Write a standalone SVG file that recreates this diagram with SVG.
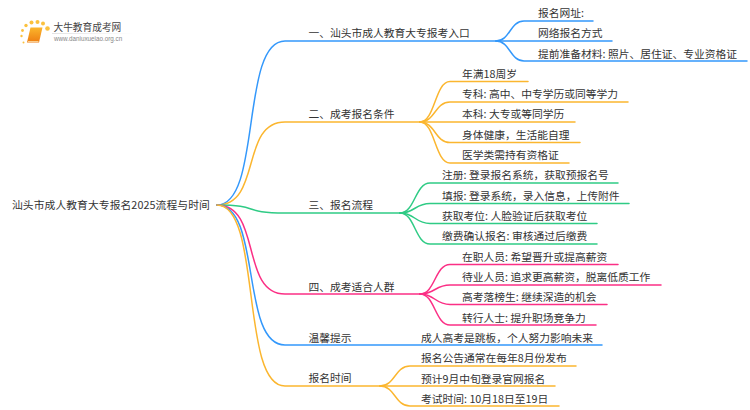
<svg xmlns="http://www.w3.org/2000/svg" width="750" height="410" viewBox="0 0 750 410">
<defs>
<linearGradient id="bk" x1="0" y1="0" x2="0" y2="1"><stop offset="0" stop-color="#fbb62c"/><stop offset="1" stop-color="#ee7d12"/></linearGradient>
<linearGradient id="ul" x1="0" y1="0" x2="1" y2="0"><stop offset="0" stop-color="#ccc" stop-opacity="0.7"/><stop offset="1" stop-color="#ccc" stop-opacity="0"/></linearGradient>
</defs>
<style>
text{font-family:"Noto Sans CJK SC","Liberation Sans",sans-serif;font-size:10.75px;fill:#333}
.c{fill:none;stroke-width:1.5;stroke-linecap:round}
.blue{stroke:#3398fb}.org{stroke:#fbb62f}.grn{stroke:#2fcb85}.pnk{stroke:#fb2f85}
.d{fill:#fbc13e}
</style>
<rect width="750" height="410" fill="#ffffff"/>
<g id="logo">
<circle class="d" cx="47.500" cy="28.500" r="2.300"/><circle class="d" cx="43" cy="23.500" r="2"/><circle class="d" cx="37.500" cy="22" r="2"/><circle class="d" cx="31.500" cy="22.500" r="2"/><circle class="d" cx="26" cy="25.500" r="1.700"/><circle class="d" cx="22.500" cy="30.500" r="1.400"/><circle class="d" cx="21.500" cy="36" r="1.200"/><circle class="d" cx="23.500" cy="42.500" r="1"/>
<path d="M30.500 27.500H42.500L39 42.500H27Z" fill="url(#bk)"/>
<path d="M28 41.500H38.500" stroke="#fde3b0" stroke-width="0.800" fill="none"/>
<text x="53.500" y="31" style="font-size:9.700px;fill:#444">大牛教育成考网</text>
<rect x="52" y="33" width="82" height="0.800" fill="url(#ul)"/>
<text x="54" y="41" style="font-family:'Liberation Sans',sans-serif;font-size:6.300px;fill:#888">www.daniuxueiao.org.cn</text>
</g>
<g id="connectors">
<path class="c blue" d="M217 205C262 205 240 41 285 41H496"/>
<path class="c org" d="M217 205C262 205 240 122 285 122H420"/>
<path class="c grn" d="M217 205C262 205 240 213 285 213H400"/>
<path class="c pnk" d="M217 205C262 205 240 294 285 294H420"/>
<path class="c blue" d="M217 205C262 205 240 345 285 345H602"/>
<path class="c org" d="M217 205C262 205 240 386 285 386H380"/>
<path class="c blue" d="M496 41C510 41 510 21 524 21H593"/>
<path class="c blue" d="M496 41C510 41 510 41 524 41H612"/>
<path class="c blue" d="M496 41C510 41 510 61 524 61H747"/>
<path class="c org" d="M420 122C435 122 435 81.500 450 81.500H528"/>
<path class="c org" d="M420 122C435 122 435 102 450 102H628"/>
<path class="c org" d="M420 122C435 122 435 122 450 122H575"/>
<path class="c org" d="M420 122C435 122 435 142.500 450 142.500H580"/>
<path class="c org" d="M420 122C435 122 435 163 450 163H569"/>
<path class="c grn" d="M400 213C415 213 415 183 430 183H618"/>
<path class="c grn" d="M400 213C415 213 415 203.500 430 203.500H629"/>
<path class="c grn" d="M400 213C415 213 415 223.500 430 223.500H597"/>
<path class="c grn" d="M400 213C415 213 415 244 430 244H597"/>
<path class="c pnk" d="M420 294C435 294 435 264.500 450 264.500H618"/>
<path class="c pnk" d="M420 294C435 294 435 285 450 285H661"/>
<path class="c pnk" d="M420 294C435 294 435 304.500 450 304.500H607"/>
<path class="c pnk" d="M420 294C435 294 435 325 450 325H596"/>
<path class="c org" d="M380 386C395 386 395 366 410 366H576"/>
<path class="c org" d="M380 386C395 386 395 386 410 386H555"/>
<path class="c org" d="M380 386C395 386 395 406 410 406H559"/>
</g>
<g id="root"><text x="12" y="209" style="letter-spacing:0.100px">汕头市成人教育大专报名2025流程与时间</text></g>
<g id="n1"><text x="308.500" y="37">一、汕头市成人教育大专报考入口</text></g>
<g id="n1a"><text x="538" y="17">报名网址:</text></g>
<g id="n1b"><text x="538" y="37">网络报名方式</text></g>
<g id="n1c"><text x="538" y="57.500">提前准备材料: 照片、居住证、专业资格证</text></g>
<g id="n2"><text x="308.500" y="118">二、成考报名条件</text></g>
<g id="n2a"><text x="462" y="78">年满18周岁</text></g>
<g id="n2b"><text x="462" y="98">专科: 高中、中专学历或同等学力</text></g>
<g id="n2c"><text x="462" y="118">本科: 大专或等同学历</text></g>
<g id="n2d"><text x="462" y="139">身体健康，生活能自理</text></g>
<g id="n2e"><text x="462" y="159">医学类需持有资格证</text></g>
<g id="n3"><text x="308.500" y="209">三、报名流程</text></g>
<g id="n3a"><text x="442" y="179">注册: 登录报名系统，获取预报名号</text></g>
<g id="n3b"><text x="442" y="200">填报: 登录系统，录入信息，上传附件</text></g>
<g id="n3c"><text x="442" y="220">获取考位: 人脸验证后获取考位</text></g>
<g id="n3d"><text x="442" y="240">缴费确认报名: 审核通过后缴费</text></g>
<g id="n4"><text x="308.500" y="291">四、成考适合人群</text></g>
<g id="n4a"><text x="462" y="261">在职人员: 希望晋升或提高薪资</text></g>
<g id="n4b"><text x="462" y="281">待业人员: 追求更高薪资，脱离低质工作</text></g>
<g id="n4c"><text x="462" y="301">高考落榜生: 继续深造的机会</text></g>
<g id="n4d"><text x="462" y="322">转行人士: 提升职场竞争力</text></g>
<g id="n5"><text x="308.500" y="341.500">温馨提示</text></g>
<g id="n5a"><text x="421" y="341.500">成人高考是跳板，个人努力影响未来</text></g>
<g id="n6"><text x="308.500" y="382">报名时间</text></g>
<g id="n6a"><text x="421" y="362">报名公告通常在每年8月份发布</text></g>
<g id="n6b"><text x="421" y="383">预计9月中旬登录官网报名</text></g>
<g id="n6c"><text x="421" y="403">考试时间: 10月18日至19日</text></g>
</svg>
